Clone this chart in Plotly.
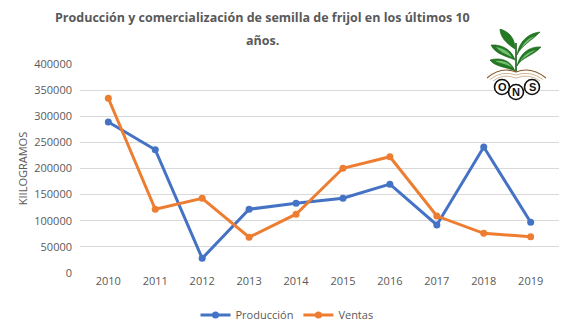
import base64
import plotly.graph_objects as go

years = ["2010", "2011", "2012", "2013", "2014", "2015", "2016", "2017", "2018", "2019"]
produccion = [289000, 236000, 28000, 122000, 133500, 143000, 170000, 92000, 241000, 97000]
ventas = [334500, 122000, 143000, 68500, 112500, 200500, 222500, 109000, 76000, 69500]

W, H = 572, 334
L, R, T, B = 80, 13, 64, 61

fig = go.Figure()
fig.add_trace(go.Scatter(x=years, y=produccion, name="Producción", mode="lines+markers",
                         line=dict(color="#4472C4", width=3), marker=dict(size=7, color="#4472C4")))
fig.add_trace(go.Scatter(x=years, y=ventas, name="Ventas", mode="lines+markers",
                         line=dict(color="#ED7D31", width=3), marker=dict(size=7, color="#ED7D31")))

svg = """<svg xmlns='http://www.w3.org/2000/svg' viewBox='0 0 60 52' width='60' height='52'>
<g fill='#237a23' stroke='#175c17' stroke-width='0.6'>
<path d='M28,42 C20,38 8,38 3,31 C13,28 24,31 28,42 Z'/>
<path d='M28,31 C19,27 8,25 4,16 C15,15 25,21 28,31 Z'/>
<path d='M28,20 C20,15 13,8 13,0 C23,3 28,10 28,20 Z'/>
<path d='M30,37 C35,28 46,27 54,18 C44,17 33,23 30,37 Z'/>
<path d='M30,26 C34,17 44,12 53,3 C42,4 32,12 30,26 Z'/>
</g>
<g fill='#8fd88f' opacity='0.75'>
<path d='M25,38 C18,35 12,34 8,32 C15,31 21,33 25,38 Z'/>
<path d='M25,28 C18,25 12,22 9,18 C16,19 21,22 25,28 Z'/>
<path d='M33,33 C37,28 43,25 49,21 C43,22 37,25 33,33 Z'/>
<path d='M33,22 C36,16 42,12 48,7 C41,9 36,14 33,22 Z'/>
</g>
<path d='M29,43 L29,14' stroke='#175c17' stroke-width='1.6'/>
<g fill='none' stroke='#8b5a2b' stroke-width='1.2'>
<path d='M0,49 Q14,37 29,43 Q44,37 59,49'/>
</g>
<g fill='none' stroke='#c9a27a' stroke-width='0.8'>
<path d='M3,50.5 Q15,41 29,46 Q43,41 56,50.5'/>
<path d='M6,52 Q16,44 29,49 Q42,44 53,52'/>
</g>
</svg>"""
src = "data:image/svg+xml;base64," + base64.b64encode(svg.encode()).decode()

px = lambda v: (v - L) / (W - L - R)
py = lambda v: 1 - (v - T) / (H - T - B)

fig.add_layout_image(dict(source=src, xref="paper", yref="paper",
                          x=px(487), y=py(29),
                          sizex=60 / (W - L - R), sizey=52 / (H - T - B),
                          xanchor="left", yanchor="top", sizing="stretch", layer="above"))

for cx, cy, letter in [(502, 87, "O"), (516, 92, "N"), (532, 87, "S")]:
    r = 7.5
    fig.add_shape(type="circle", xref="paper", yref="paper",
                  x0=px(cx - r), x1=px(cx + r), y0=py(cy + r), y1=py(cy - r),
                  line=dict(color="#111111", width=1.6), fillcolor="white", layer="above")
    fig.add_annotation(x=px(cx), y=py(cy), xref="paper", yref="paper", text="<b>" + letter + "</b>",
                       showarrow=False, font=dict(family="Liberation Sans", size=11, color="#111111"),
                       xanchor="center", yanchor="middle")

title_lines = ["Producción y comercialización de semilla de frijol en los últimos 10", "años."]
for i, t in enumerate(title_lines):
    fig.add_annotation(x=px(262), y=py(18 + 22 * i), xref="paper", yref="paper",
                       text="<b>" + t + "</b>", showarrow=False,
                       xanchor="center", yanchor="middle",
                       font=dict(family="Open Sans", size=12.5, color="#595959"))

fig.update_layout(
    width=W, height=H,
    margin=dict(l=L, r=R, t=T, b=B),
    paper_bgcolor="white", plot_bgcolor="white",
    font=dict(family="Open Sans", color="#595959", size=11),
    xaxis=dict(type="category", showgrid=False, showline=False, ticks="",
               tickfont=dict(size=11, color="#595959"), zeroline=False),
    yaxis=dict(range=[0, 400000], dtick=50000, showgrid=True, gridcolor="#D9D9D9", gridwidth=1,
               zeroline=False, showline=False, tickformat="d", ticklabelstandoff=7,
               tickfont=dict(size=11, color="#595959"),
               title=dict(text="KIILOGRAMOS", font=dict(size=11, color="#595959"), standoff=4)),
    legend=dict(orientation="h", xref="container", yref="container",
                x=287 / W, y=1 - 315 / H, xanchor="center", yanchor="middle",
                font=dict(size=11, color="#595959"), itemwidth=30),
    showlegend=True,
)

fig.write_html("out.html")
